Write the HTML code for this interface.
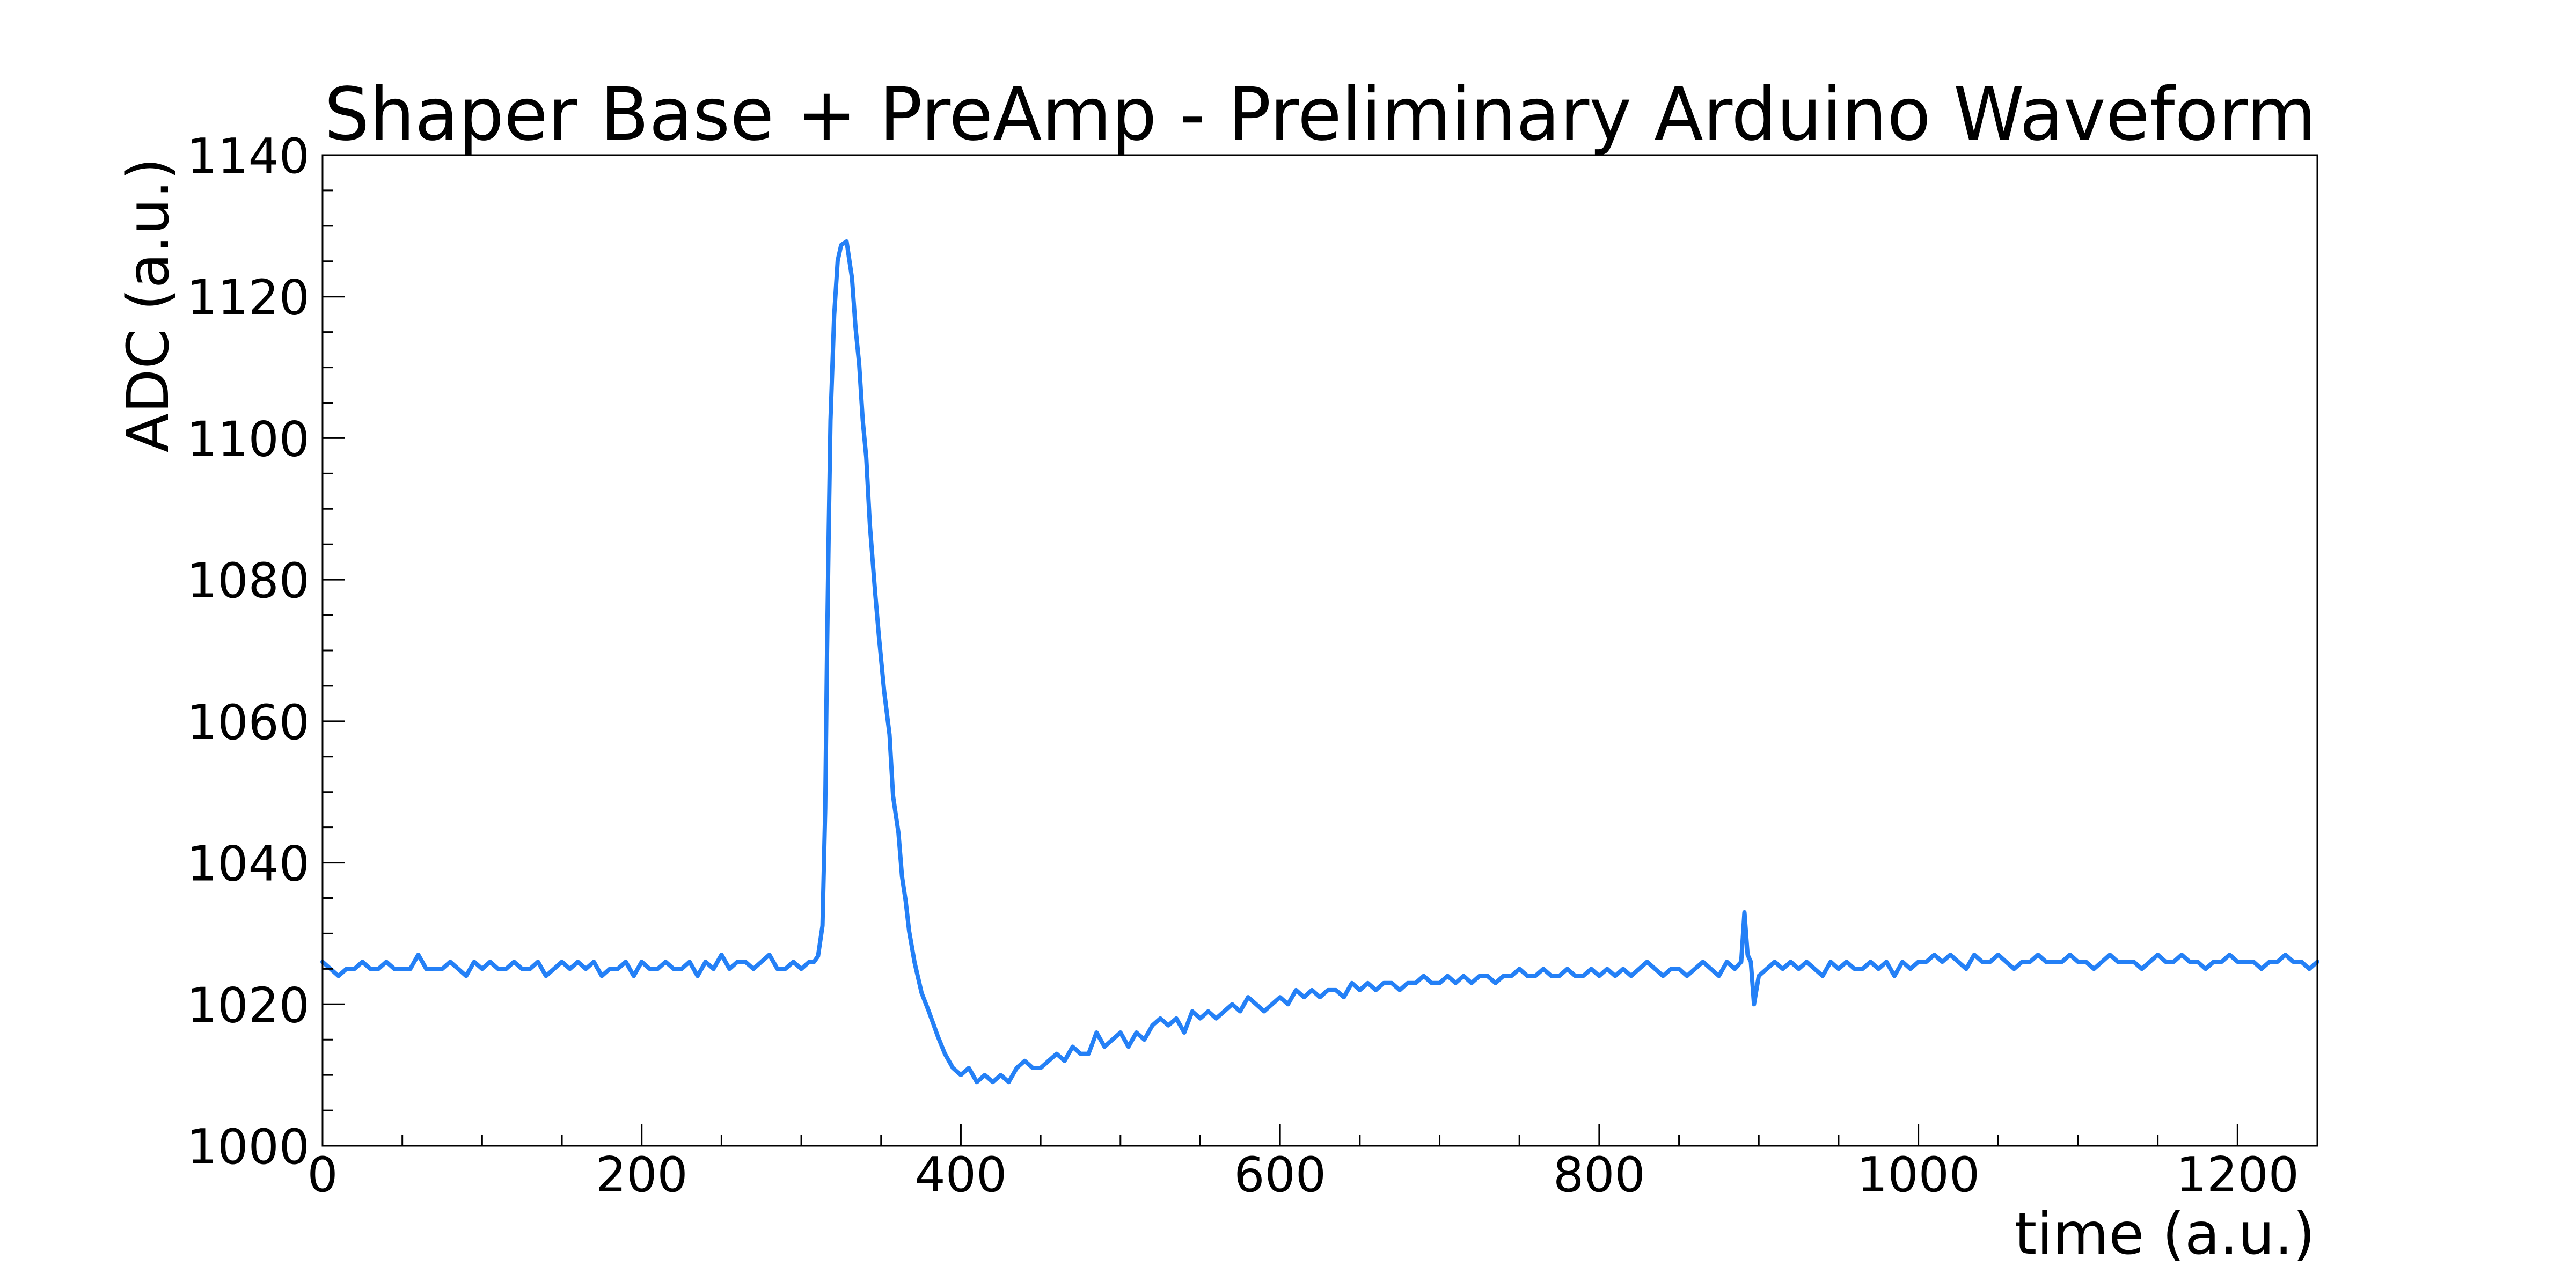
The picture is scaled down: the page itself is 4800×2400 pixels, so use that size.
<!DOCTYPE html>
<html><head><meta charset="utf-8"><style>
html,body{margin:0;padding:0;background:#fff;}
svg{display:block;}
text{font-family:"DejaVu Sans","Liberation Sans",sans-serif;fill:#000;}
</style></head><body>
<svg id="chart" width="4800" height="2400" viewBox="0 0 4800 2400" xmlns="http://www.w3.org/2000/svg">
<rect width="4800" height="2400" fill="#fff"/>
<text x="604" y="260" font-size="136" textLength="3712" lengthAdjust="spacingAndGlyphs">Shaper Base + PreAmp - Preliminary Arduino Waveform</text>
<text transform="translate(313,294) rotate(-90)" text-anchor="end" font-size="107">ADC (a.u.)</text>
<text x="4314" y="2336" text-anchor="end" font-size="107">time (a.u.)</text>
<g id="plot"></g>
</svg>
<script>
const xTicks=[0,200,400,600,800,1000,1200];
const yTicks=[1000,1020,1040,1060,1080,1100,1120,1140];
const timeValues=[0,5,10,15,20,25,30,35,40,45,50,55,60,65,70,75,80,85,90,95,100,105,110,115,120,125,130,135,140,145,150,155,160,165,170,175,180,185,190,195,200,205,210,215,220,225,230,235,240,245,250,255,260,265,270,275,280,285,290,295,300,305,
308,310.5,313.3,315,316.1,317.2,318.3,320.6,322.8,325,328.4,331.8,334,336.3,338.5,340.7,343,346.3,348.6,351.9,355.3,357.5,360.9,363.1,365.4,367.6,371,375.4,379.9,385.5,
390,395,
400,405,410,415,420,425,430,435,440,445,450,455,460,465,470,475,480,485,490,495,500,505,510,515,520,525,530,535,540,545,550,555,560,565,570,575,580,585,590,595,600,605,610,615,620,625,630,635,640,645,650,655,660,665,670,675,680,685,690,695,700,705,710,715,720,725,730,735,740,745,750,755,760,765,770,775,780,785,790,795,800,
805,810,815,820,825,830,835,840,845,850,855,860,865,870,875,880,885,
889,891,893,895,897,
900,905,910,915,920,925,930,935,940,945,950,955,960,965,970,975,980,985,990,995,1000,1005,1010,1015,1020,1025,1030,1035,1040,1045,1050,1055,1060,1065,1070,1075,1080,1085,1090,1095,1100,1105,1110,1115,1120,1125,1130,1135,1140,1145,1150,1155,1160,1165,1170,1175,1180,1185,1190,1195,1200,1205,1210,1215,1220,1225,1230,1235,1240,1245,1250];
const adcValues=[1026,1025,1024,1025,1025,1026,1025,1025,1026,1025,
1025,1025,1027,1025,1025,1025,1026,1025,1024,1026,
1025,1026,1025,1025,1026,1025,1025,1026,1024,1025,
1026,1025,1026,1025,1026,1024,1025,1025,1026,1024,
1026,1025,1025,1026,1025,1025,1026,1024,1026,1025,
1027,1025,1026,1026,1025,1026,1027,1025,1025,1026,
1025,1026,
1026,1026.8,1031.1,1047.7,1069.5,1086.9,1102.5,1117.3,1125.1,1127.3,1127.8,1122.6,1115.6,1110.4,1102.5,1097.3,1087.7,1078.1,1072.1,1064.3,1058.1,1049.4,1044.2,1038.1,1034.6,1030.3,1025.9,1021.6,1019,1015.5,
1013,1011,
1010,1011,1009,1010,1009,1010,1009,1011,1012,1011,
1011,1012,1013,1012,1014,1013,1013,1016,1014,1015,
1016,1014,1016,1015,1017,1018,1017,1018,1016,1019,
1018,1019,1018,1019,1020,1019,1021,1020,1019,1020,
1021,1020,1022,1021,1022,1021,1022,1022,1021,1023,
1022,1023,1022,1023,1023,1022,1023,1023,1024,1023,
1023,1024,1023,1024,1023,1024,1024,1023,1024,1024,
1025,1024,1024,1025,1024,1024,1025,1024,1024,1025,
1024,
1025,1024,1025,1024,1025,1026,1025,1024,1025,1025,1024,1025,1026,1025,1024,1026,1025,
1026,1033,1027,1026,1020,
1024,1025,1026,1025,1026,1025,1026,1025,1024,1026,
1025,1026,1025,1025,1026,1025,1026,1024,1026,1025,
1026,1026,1027,1026,1027,1026,1025,1027,1026,1026,
1027,1026,1025,1026,1026,1027,1026,1026,1026,1027,
1026,1026,1025,1026,1027,1026,1026,1026,1025,1026,
1027,1026,1026,1027,1026,1026,1025,1026,1026,1027,
1026,1026,1026,1025,1026,1026,1027,1026,1026,1025,1026];

const NS="http://www.w3.org/2000/svg";
const L=601,R=4318,T=289,B=2135;
const xMin=0,xMax=1250,yMin=1000,yMax=1140;
function sx(v){return L+(v-xMin)/(xMax-xMin)*(R-L);}
function sy(v){return B-(v-yMin)/(yMax-yMin)*(B-T);}
const g=document.getElementById('plot');
function mk(tag,attrs){const e=document.createElementNS(NS,tag);for(const k in attrs)e.setAttribute(k,attrs[k]);g.appendChild(e);return e;}

let d='';
const n=Math.min(timeValues.length,adcValues.length);
for(let i=0;i<n;i++){d+=(i?'L':'M')+sx(timeValues[i]).toFixed(1)+' '+sy(adcValues[i]).toFixed(1);}
const line=mk('path',{d:d,fill:'none',stroke:'#2480f6','stroke-width':'8','stroke-linejoin':'round','stroke-linecap':'round'});



const frame=mk('rect',{x:L,y:T,width:R-L,height:B-T,fill:'none',stroke:'#000','stroke-width':'3'});



for(let v=0;v<=1250;v+=50){
  const major=(v%200===0);
  const t=mk('line',{x1:sx(v),x2:sx(v),y1:B,y2:B-(major?41:20),stroke:'#000','stroke-width':'3'});
  
  
}
xTicks.forEach(v=>{
  const t=mk('text',{x:sx(v),y:2220,'text-anchor':'middle','font-size':'90'});
  t.textContent=String(v);
  
  
});
for(let v=1000;v<=1140;v+=5){
  const major=(v%20===0);
  const t=mk('line',{x1:L,x2:L+(major?41:20),y1:sy(v),y2:sy(v),stroke:'#000','stroke-width':'3'});
  
  
}
yTicks.forEach(v=>{
  const t=mk('text',{x:577,y:sy(v)+33,'text-anchor':'end','font-size':'90'});
  t.textContent=String(v);
  
  
});
</script>
</body></html>
